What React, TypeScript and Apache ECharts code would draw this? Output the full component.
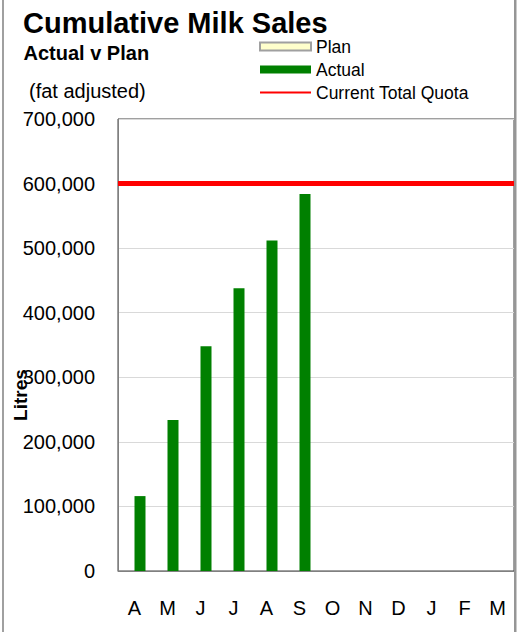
import React, { useEffect, useRef } from "react";
import * as echarts from "echarts";

const months = ["A", "M", "J", "J", "A", "S", "O", "N", "D", "J", "F", "M"];
const planValues: (number | null)[] = [null, null, null, null, null, null, null, null, null, null, null, null];
const actualValues: (number | null)[] = [116000, 234000, 348000, 438000, 512000, 584000, null, null, null, null, null, null];
const quotaValue = 600000;
const yTicks = { min: 0, max: 700000, interval: 100000 };

const FONT = "'Liberation Sans', Arial, sans-serif";

export default function App() {
  const ref = useRef<HTMLDivElement>(null);
  useEffect(() => {
    document.body.style.margin = "0";
    const chart = echarts.init(ref.current!, null, { renderer: "svg" });
    chart.setOption({
      animation: false,
      backgroundColor: "#ffffff",
      textStyle: { fontFamily: FONT },
      grid: {
        left: 118,
        top: 119,
        right: 12,
        bottom: 61,
        show: true,
        borderColor: "#404040",
        borderWidth: 1,
        backgroundColor: "transparent",
      },
      legend: {
        orient: "vertical",
        left: 259,
        top: 35,
        padding: 0,
        itemWidth: 51,
        itemHeight: 8,
        itemGap: 0,
        textStyle: { fontFamily: FONT, fontSize: 17.5, color: "#000", lineHeight: 23 },
        data: [
          { name: "Plan", icon: "rect" },
          { name: "Actual", icon: "rect" },
          { name: "Current Total Quota", lineStyle: { width: 2 }, itemStyle: { opacity: 0 } },
        ],
      },
      xAxis: [
        {
          type: "category",
          data: months,
          boundaryGap: true,
          axisLine: { show: true, lineStyle: { color: "#808080", width: 1 } },
          axisTick: { show: false },
          axisLabel: { fontFamily: FONT, fontSize: 20, color: "#000", margin: 27, interval: 0 },
          splitLine: { show: false },
        },
        { type: "value", min: 0, max: 1, show: false },
      ],
      yAxis: {
        type: "value",
        min: yTicks.min,
        max: yTicks.max,
        interval: yTicks.interval,
        axisLine: { show: true, lineStyle: { color: "#808080", width: 1 } },
        axisTick: { show: false },
        axisLabel: {
          fontFamily: FONT,
          fontSize: 20,
          color: "#000",
          margin: 23,
          formatter: (v: number) => v.toLocaleString("en-US"),
        },
        splitLine: { show: true, lineStyle: { color: "#d9d9d9", width: 1 } },
      },
      series: [
        {
          name: "Plan",
          type: "bar",
          data: planValues,
          barWidth: 11,
          barGap: "0%",
          itemStyle: { color: "#ffffcc", borderColor: "#a0a0a0", borderWidth: 1 },
        },
        {
          name: "Actual",
          type: "bar",
          data: actualValues,
          barWidth: 11,
          barGap: "0%",
          itemStyle: { color: "#008000" },
        },
        {
          name: "Current Total Quota",
          type: "line",
          xAxisIndex: 1,
          data: [
            [0, quotaValue],
            [1, quotaValue],
          ],
          symbol: "none",
          lineStyle: { color: "#ff0000", width: 5 },
          itemStyle: { color: "#ff0000" },
          z: 5,
        },
      ],
      graphic: [
        {
          type: "text",
          x: 23,
          y: 22.5,
          style: { text: "Cumulative Milk Sales", font: `bold 29px ${FONT}`, fill: "#000", textVerticalAlign: "middle" },
        },
        {
          type: "text",
          x: 23.5,
          y: 52.5,
          style: { text: "Actual v Plan", font: `bold 20px ${FONT}`, fill: "#000", textVerticalAlign: "middle" },
        },
        {
          type: "text",
          x: 29,
          y: 91,
          style: { text: "(fat adjusted)", font: `20px ${FONT}`, fill: "#000", textVerticalAlign: "middle" },
        },
        {
          type: "text",
          x: 20,
          y: 395,
          rotation: Math.PI / 2,
          style: { text: "Litres", font: `bold 19px ${FONT}`, fill: "#000", textAlign: "center", textVerticalAlign: "middle" },
        },
        {
          type: "rect",
          shape: { x: 2, y: 0, width: 2, height: 632 },
          style: { fill: "#a0a0a0" },
          z: 10,
        },
        {
          type: "rect",
          shape: { x: 514, y: 0, width: 2.5, height: 632 },
          style: { fill: "#969696" },
          z: 10,
        },
      ],
    });
    return () => chart.dispose();
  }, []);
  return <div ref={ref} style={{ width: 526, height: 632 }} />;
}
